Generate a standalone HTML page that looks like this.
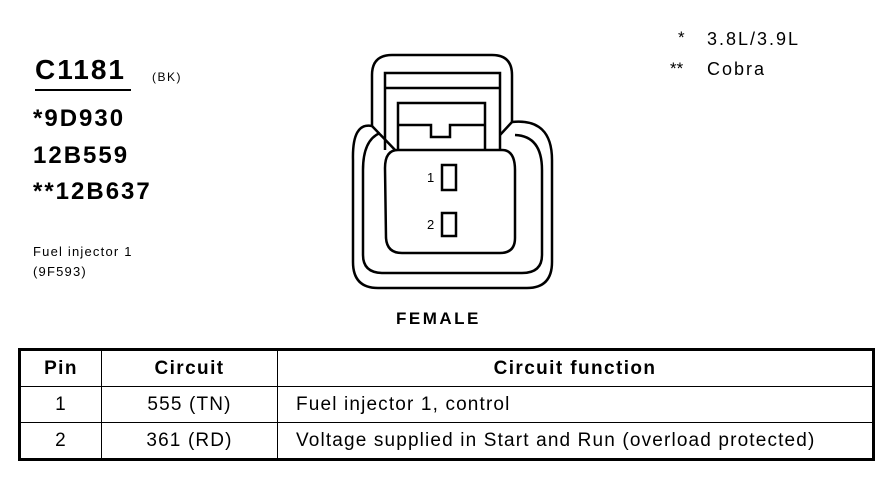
<!DOCTYPE html>
<html><head><style>
body{margin:0;width:886px;height:480px;background:#fff;position:relative;font-family:"Liberation Sans",Arial,sans-serif;color:#000;overflow:hidden}
.t{position:absolute;white-space:nowrap}
.b{font-weight:bold}
table{position:absolute;left:18px;top:348px;width:857px;border-collapse:collapse;border:3px solid #000;font-size:19px;letter-spacing:1.15px}
td,th{border:1.5px solid #000;height:35px;padding:0;text-align:center}
th{font-weight:bold;letter-spacing:1.4px}
td.l{text-align:left;padding-left:18px}
</style></head><body>
<div class="t b" style="left:35px;top:54px;font-size:28px;letter-spacing:2px">C1181</div>
<div style="position:absolute;left:35px;top:89px;width:96px;height:2px;background:#000"></div>
<div class="t" style="left:152px;top:70px;font-size:12px;letter-spacing:1.5px">(BK)</div>
<div class="t b" style="left:33px;top:105px;font-size:24px;letter-spacing:2px">*9D930</div>
<div class="t b" style="left:33px;top:142px;font-size:24px;letter-spacing:2px">12B559</div>
<div class="t b" style="left:33px;top:178px;font-size:24px;letter-spacing:2px">**12B637</div>
<div class="t" style="left:33px;top:244px;font-size:13px;letter-spacing:1.2px">Fuel injector 1</div>
<div class="t" style="left:33px;top:264px;font-size:13px;letter-spacing:1.2px">(9F593)</div>
<div class="t" style="left:678px;top:28px;font-size:17px">*</div>
<div class="t" style="left:707px;top:29px;font-size:18px;letter-spacing:2px">3.8L/3.9L</div>
<div class="t" style="left:670px;top:59px;font-size:17px">**</div>
<div class="t" style="left:707px;top:59px;font-size:18px;letter-spacing:2px">Cobra</div>
<div class="t b" style="left:396px;top:309px;font-size:17px;letter-spacing:2.5px">FEMALE</div>
<svg style="position:absolute;left:0;top:0" width="886" height="480" fill="none" stroke="#000" stroke-width="2.5">
<path d="M372,126 L372,75 Q372,55 392,55 L492,55 Q512,55 512,75 L512,122"/>
<path d="M372,126 Q352,122 353,160 L353,262 Q353,288 378,288 L527,288 Q552,288 552,262 L552,160 Q552,118 512,122"/>
<path d="M380,133 Q363,140 363,170 L363,255 Q363,273 383,273 L522,273 Q542,273 542,255 L542,170 Q542,136 515,135"/>
<path d="M372,126 L397,152 M512,122 L500,135"/>
<path d="M385,150 L385,73 L500,73 L500,150 M385,88 L500,88"/>
<path d="M398,150 L398,103 L485,103 L485,150 M398,125 L431,125 L431,137 L450,137 L450,125 L485,125"/>
<path d="M398,150 L502,150 Q515,150 515,170 L515,238 Q515,253 500,253 L402,253 Q387,253 386,238 L385,168 Q385,150 398,150 Z" fill="#fff"/>
<rect x="442" y="165" width="14" height="25"/>
<rect x="442" y="213" width="14" height="23"/>
</svg>
<div class="t" style="left:427px;top:170px;font-size:13px">1</div>
<div class="t" style="left:427px;top:217px;font-size:13px">2</div>
<table>
<tr><th style="width:80px">Pin</th><th style="width:175px">Circuit</th><th>Circuit function</th></tr>
<tr><td>1</td><td>555 (TN)</td><td class="l">Fuel injector 1, control</td></tr>
<tr><td>2</td><td>361 (RD)</td><td class="l">Voltage supplied in Start and Run (overload protected)</td></tr>
</table>
</body></html>
